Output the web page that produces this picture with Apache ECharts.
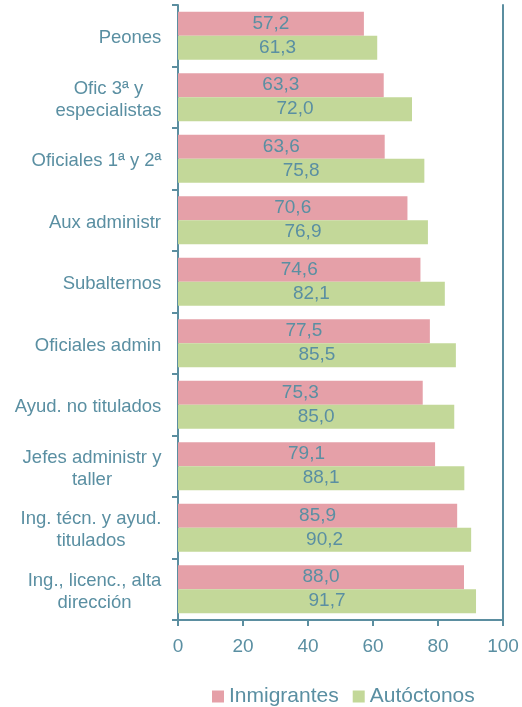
<!DOCTYPE html>
<html>
<head>
<meta charset="utf-8">
<script src="https://cdn.jsdelivr.net/npm/echarts@6/dist/echarts.min.js"></script>
<style>
  html, body { margin: 0; padding: 0; background: #fff; }
  #chart { width: 522px; height: 707px; }
</style>
</head>
<body>
<div id="chart"></div>
<script>
// categories, top to bottom
var categories = [
  'Peones',
  'Ofic 3ª y\nespecialistas',
  'Oficiales 1ª y 2ª',
  'Aux administr',
  'Subalternos',
  'Oficiales admin',
  'Ayud. no titulados',
  'Jefes administr y\ntaller',
  'Ing. técn. y ayud.\ntitulados',
  'Ing., licenc., alta\ndirección'
];
var inmigrantes = [57.2, 63.3, 63.6, 70.6, 74.6, 77.5, 75.3, 79.1, 85.9, 88.0];
var autoctonos = [61.3, 72.0, 75.8, 76.9, 82.1, 85.5, 85.0, 88.1, 90.2, 91.7];
var seriesNames = ['Inmigrantes', 'Autóctonos'];
var xTicks = [0, 20, 40, 60, 80, 100];

var textColor = '#5a8fa2';
var lineColor = '#5b8ea0';
var font = '"Liberation Sans", Arial, sans-serif';
var catFontSize = 18.5;

// measure label lines so multi-line labels can be centred inside their block
var ctx = document.createElement('canvas').getContext('2d');
ctx.font = catFontSize + 'px ' + font;
var rich = {};
categories.forEach(function (c, i) {
  var w = Math.max.apply(null, c.split('\n').map(function (l) { return ctx.measureText(l).width; }));
  rich['c' + i] = { width: Math.ceil(w) + 1, align: 'center', color: textColor, fontSize: catFontSize, fontFamily: font, lineHeight: 22 };
});

var chart = echarts.init(document.getElementById('chart'));

function barLabel() {
  return {
    show: true,
    position: 'inside',
    color: textColor,
    fontSize: 19,
    fontFamily: font,
    formatter: function (p) { return p.value.toFixed(1).replace('.', ','); }
  };
}

var option = {
  animation: false,
  textStyle: { fontFamily: font },
  grid: { left: 178, right: 19, top: 5, bottom: 87 },
  legend: {
    data: seriesNames,
    left: 207,
    top: 681,
    icon: 'rect',
    itemWidth: 12,
    itemHeight: 12,
    itemGap: 14,
    textStyle: { color: textColor, fontSize: 21, fontFamily: font }
  },
  xAxis: {
    type: 'value',
    min: xTicks[0],
    max: xTicks[xTicks.length - 1],
    interval: 20,
    axisLine: { show: true, lineStyle: { color: lineColor, width: 2 } },
    axisTick: { show: true, length: 6, lineStyle: { color: lineColor, width: 2 } },
    splitLine: { show: false },
    axisLabel: { color: textColor, fontSize: 19, fontFamily: font, margin: 17 }
  },
  yAxis: [{
    type: 'category',
    data: categories,
    inverse: true,
    axisLine: { show: true, lineStyle: { color: lineColor, width: 2 } },
    axisTick: { show: true, length: 6, lineStyle: { color: lineColor, width: 2 } },
    axisLabel: {
      color: textColor,
      fontSize: catFontSize,
      fontFamily: font,
      margin: 16,
      lineHeight: 22,
      padding: [5, 0, 0, 0],
      formatter: function (v, i) {
        return v.split('\n').map(function (l) { return '{c' + i + '|' + l + '}'; }).join('\n');
      },
      rich: rich
    }
  }, {
    type: 'category',
    data: categories,
    inverse: true,
    position: 'right',
    axisLine: { show: true, lineStyle: { color: lineColor, width: 2 } },
    axisTick: { show: false },
    axisLabel: { show: false }
  }],
  series: [{
    name: seriesNames[0],
    type: 'bar',
    data: inmigrantes,
    itemStyle: { color: '#e5a0a8' },
    barGap: 0,
    barCategoryGap: '22%',
    label: barLabel()
  }, {
    name: seriesNames[1],
    type: 'bar',
    data: autoctonos,
    itemStyle: { color: '#c3d899' },
    barGap: 0,
    barCategoryGap: '22%',
    label: barLabel()
  }]
};

chart.setOption(option);
</script>
</body>
</html>
